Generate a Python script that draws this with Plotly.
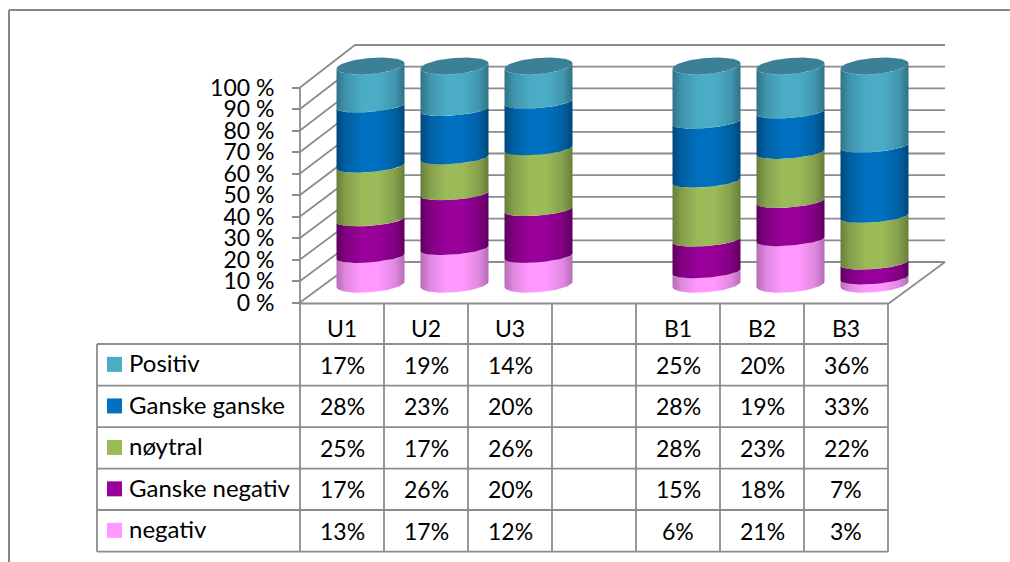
import numpy as np
import plotly.graph_objects as go

categories = ["U1", "U2", "U3", "", "B1", "B2", "B3"]
series_names = ["negativ", "Ganske negativ", "nøytral", "Ganske ganske", "Positiv"]
negativ = [13, 17, 12, None, 6, 21, 3]
ganske_negativ = [17, 26, 20, None, 15, 18, 7]
noytral = [25, 17, 26, None, 28, 23, 22]
ganske_ganske = [28, 23, 20, None, 28, 19, 33]
positiv = [17, 19, 14, None, 25, 20, 36]
series_values = [negativ, ganske_negativ, noytral, ganske_ganske, positiv]
pct_ticks = [0, 10, 20, 30, 40, 50, 60, 70, 80, 90, 100]

bright = ["#FF99FF", "#990099", "#9BBB59", "#0070C0", "#4BACC6"]
mid = ["#E088E0", "#820082", "#869F4C", "#0060A4", "#4095AC"]
edge = ["#B56CB5", "#5E005E", "#667F3A", "#00487C", "#2F7488"]
cap_color = "#3B8096"
line_color = "#8C8C8C"
font = "Lato, Carlito, Calibri, sans-serif"
W, H = 1010, 562

# pixel helpers for the layout frame (front plane of the chart)
ux, uy = 84.0, 2.15
x0_px, y0_px = 300.0, 302.5
X = lambda p: -0.5 + (p - x0_px) / ux
Y = lambda p: (y0_px - p) / uy

fig = go.Figure()


def seg(xs, ys, color=line_color, width=1.8):
    fig.add_trace(go.Scatter(x=xs, y=ys, mode="lines", showlegend=False, hoverinfo="skip",
                             line=dict(color=color, width=width)))


# 3D walls: shifted by the chart depth
depth_x = 55 / ux
depth_y = 40.5 / uy
back_scale = 217 / 215
back_left = -0.5 + depth_x
back_right = X(945)
for v in pct_ticks:
    yb = depth_y + v * back_scale
    seg([-0.5, back_left, back_right], [v, yb, yb])
seg([-0.5, -0.5], [0, 100])
seg([6.5, back_right], [Y(304), depth_y])

# cylinders
half_w = 34 / ux
B_end, B_inner, S = 8.0 / uy, 6.0 / uy, 2.7 / uy
mid_x = 28.5 / ux
mid_y = 18.2 / uy
cyl_scale = 1.0
cap_lift = 3.3 / uy
t_front = np.linspace(np.pi, 2 * np.pi, 41)
t_full = np.linspace(0, 2 * np.pi, 81)


def ring(c, v, t, b):
    return c + half_w * np.cos(t), v + b * np.sin(t) + S * np.cos(t)


for i, cat in enumerate(categories):
    vals = [s[i] for s in series_values]
    if vals[0] is None:
        continue
    total = sum(vals)
    c = i + mid_x
    cum = 0.0
    for k, v in enumerate(vals):
        lo = mid_y + cum / total * 100 * cyl_scale
        cum += v
        hi = mid_y + cum / total * 100 * cyl_scale
        last = k == len(vals) - 1
        if last:
            hi += cap_lift
        x1, y1 = ring(c, lo, t_front, B_end if k == 0 else B_inner)
        x2, y2 = ring(c, hi, t_front[::-1], B_end if last else B_inner)
        fig.add_trace(go.Scatter(
            x=np.r_[x1, x2], y=np.r_[y1, y2], mode="lines", fill="toself", name=series_names[k],
            showlegend=False, hoverinfo="skip", line=dict(width=0, color=bright[k]),
            fillgradient=dict(type="horizontal", colorscale=[
                [0, edge[k]], [0.14, mid[k]], [0.38, bright[k]], [0.62, bright[k]],
                [0.86, mid[k]], [1, edge[k]]])))
    xc, yc = ring(c, hi, t_full, B_end)
    fig.add_trace(go.Scatter(x=xc, y=yc, mode="lines", fill="toself", showlegend=False, hoverinfo="skip",
                             fillcolor=cap_color, line=dict(width=0, color=cap_color)))

# data table
row_px = [344, 385.7, 427.2, 468.7, 510, 551.7]
header_top = 303.5
legend_left = X(97)
n = len(categories)
for p in row_px:
    seg([legend_left, 6.5], [Y(p), Y(p)])
seg([-0.5, 6.5], [Y(header_top), Y(header_top)])
seg([legend_left, legend_left], [Y(row_px[0]), Y(row_px[-1])])
for j in range(n + 1):
    seg([j - 0.5, j - 0.5], [Y(header_top), Y(row_px[-1])])

annotations = []
shapes = []
name_size = 24
num_size = 23
for r, k in enumerate(reversed(range(len(series_names)))):
    yc_px = (row_px[r] + row_px[r + 1]) / 2
    shapes.append(dict(type="rect", xref="x", yref="y", x0=X(107), x1=X(122),
                       y0=Y(yc_px - 8), y1=Y(yc_px + 7), fillcolor=bright[k], line=dict(width=0)))
    annotations.append(dict(x=X(126.5), y=Y(yc_px - 2), xref="x", yref="y", text=series_names[k],
                            showarrow=False, xanchor="left", yanchor="middle",
                            font=dict(family=font, size=name_size, color="#000000")))
    for j in range(n):
        v = series_values[k][j]
        if v is None:
            continue
        annotations.append(dict(x=j, y=Y(yc_px), xref="x", yref="y", text=f"{v}%",
                                showarrow=False, xanchor="center", yanchor="middle",
                                font=dict(family=font, size=num_size, color="#000000")))

# chart border
shapes.append(dict(type="line", xref="paper", yref="paper", x0=9 / W, x1=1, y0=1 - 10 / H, y1=1 - 10 / H,
                   line=dict(color="#868686", width=2)))
shapes.append(dict(type="line", xref="paper", yref="paper", x0=9 / W, x1=9 / W, y0=0, y1=1 - 10 / H,
                   line=dict(color="#868686", width=2)))

fig.update_layout(
    width=W, height=H, margin=dict(l=0, r=0, t=0, b=0),
    paper_bgcolor="white", plot_bgcolor="white", showlegend=False,
    shapes=shapes, annotations=annotations,
    xaxis=dict(range=[X(0), X(W)], domain=[0, 1], anchor="free", position=1 - 303.5 / H,
               tickmode="array", tickvals=list(range(n)), ticktext=categories,
               showgrid=False, zeroline=False, showline=False, ticks="",
               tickfont=dict(family=font, size=23, color="#000000"), ticklabelstandoff=9),
    yaxis=dict(range=[Y(H), Y(0)], domain=[0, 1], anchor="free", position=x0_px / W,
               tickmode="array", tickvals=pct_ticks, ticktext=[f"{v} %" for v in pct_ticks],
               showgrid=False, zeroline=False, showline=False,
               ticks="outside", ticklen=8, tickwidth=1.8, tickcolor=line_color,
               tickfont=dict(family=font, size=23, color="#000000"), ticklabelstandoff=13),
)

fig.write_html("out.html", config=dict(displayModeBar=False),
               post_script="document.body.style.margin='0';document.body.style.overflow='hidden';")
